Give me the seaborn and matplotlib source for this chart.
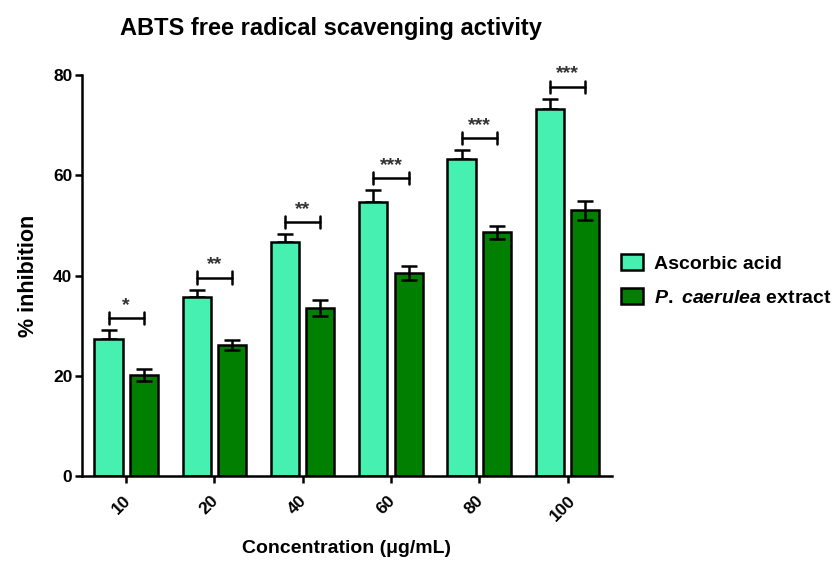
import numpy as np
import pandas as pd
import matplotlib
matplotlib.use("Agg")
import matplotlib.pyplot as plt
import matplotlib.transforms as mtrans
import seaborn as sns
from matplotlib.patches import Patch

# ---- data ----
concentrations = ["10", "20", "40", "60", "80", "100"]
groups = ["Ascorbic acid", "P. caerulea extract"]
ascorbic_mean = [27.3, 35.7, 46.7, 54.6, 63.2, 73.3]
ascorbic_err = [1.8, 1.5, 1.5, 2.5, 1.9, 2.0]
extract_mean = [20.2, 26.2, 33.6, 40.5, 48.6, 53.0]
extract_err = [1.2, 1.0, 1.6, 1.3, 1.3, 1.9]
significance = ["*", "**", "**", "***", "***", "***"]

sns.set_style("white")
plt.rcParams["font.family"] = ["Liberation Sans", "DejaVu Sans"]
plt.rcParams["font.weight"] = "bold"
plt.rcParams["text.color"] = "black"
plt.rcParams["axes.labelcolor"] = "black"
plt.rcParams["xtick.color"] = "black"
plt.rcParams["ytick.color"] = "black"
plt.rcParams["mathtext.fontset"] = "custom"
plt.rcParams["mathtext.it"] = "Liberation Sans:italic:bold"
plt.rcParams["mathtext.rm"] = "Liberation Sans:bold"

df = pd.DataFrame({
    "Concentration": concentrations * 2,
    "Group": [groups[0]] * len(concentrations) + [groups[1]] * len(concentrations),
    "Value": ascorbic_mean + extract_mean,
})

colors = {"Ascorbic acid": "#45F0B0", "P. caerulea extract": "#007F00"}

fig = plt.figure(figsize=(8.38, 5.61), dpi=100)
ax = fig.add_axes([0.0979, 0.1515, 0.632, 0.7148])

sns.barplot(data=df, x="Concentration", y="Value", hue="Group",
            order=concentrations, hue_order=groups, palette=colors,
            saturation=1, errorbar=None, width=0.8, gap=0.2, edgecolor="black",
            linewidth=1.8, legend=False, ax=ax, zorder=2)

asc_bars, ext_bars = ax.containers[0], ax.containers[1]
asc_x = [b.get_x() + b.get_width() / 2 for b in asc_bars]
ext_x = [b.get_x() + b.get_width() / 2 for b in ext_bars]

ax.errorbar(asc_x, ascorbic_mean, yerr=[np.zeros(len(ascorbic_err)), ascorbic_err],
            fmt="none", ecolor="black", elinewidth=1.8, capsize=5.5, capthick=1.8, zorder=1)
ax.errorbar(ext_x, extract_mean, yerr=extract_err,
            fmt="none", ecolor="black", elinewidth=1.8, capsize=5.5, capthick=1.8, zorder=3)

# significance brackets
for xa, xe, m, e, s in zip(asc_x, ext_x, ascorbic_mean, ascorbic_err, significance):
    yb = m + e + 2.4
    ax.plot([xa, xe], [yb, yb], color="black", lw=1.8, zorder=4)
    ax.plot([xa, xa], [yb - 1.2, yb + 1.2], color="black", lw=1.8, zorder=4)
    ax.plot([xe, xe], [yb - 1.2, yb + 1.2], color="black", lw=1.8, zorder=4)
    ax.text((xa + xe) / 2, yb + 0.8, s, ha="center", va="bottom",
            fontsize=14, fontweight="bold", color="#333333")

ax.set_xlim(-0.5, 5.5)
ax.set_ylim(0, 80)
ax.set_yticks([0, 20, 40, 60, 80])
ax.set_xlabel("Concentration (μg/mL)", fontsize=14, fontweight="bold", labelpad=12)
ax.set_ylabel("% inhibition", fontsize=15.5, fontweight="bold", labelpad=10)
ax.tick_params(axis="both", direction="out", length=5, width=1.8,
               labelsize=12.5, color="black", left=True, bottom=True)
ax.tick_params(axis="x", pad=7)
ax.tick_params(axis="y", pad=2)
shift = mtrans.ScaledTranslation(-5 / 100, 0, fig.dpi_scale_trans)
for lbl in ax.get_xticklabels():
    lbl.set_rotation(45)
    lbl.set_fontweight("bold")
    lbl.set_transform(lbl.get_transform() + shift)
for lbl in ax.get_yticklabels():
    lbl.set_fontweight("bold")

sns.despine(ax=ax)
for sp in ["left", "bottom"]:
    ax.spines[sp].set_linewidth(1.8)
    ax.spines[sp].set_color("black")

fig.text(331 / 838, 1 - 28 / 561, "ABTS free radical scavenging activity",
         ha="center", va="center", fontsize=17, fontweight="bold")

handles = [Patch(facecolor=colors[g], edgecolor="black", linewidth=1.8) for g in groups]
labels = ["Ascorbic acid", r"$\it{P.}$ $\it{caerulea}$ extract"]
fig.legend(handles, labels, loc="center left", bbox_to_anchor=(0.741, 0.5),
           frameon=False, handlelength=1.15, handleheight=0.9,
           labelspacing=0.8, handletextpad=0.55, borderpad=0, borderaxespad=0,
           prop={"weight": "bold", "size": 14})

fig.savefig("out.png", dpi=100)
